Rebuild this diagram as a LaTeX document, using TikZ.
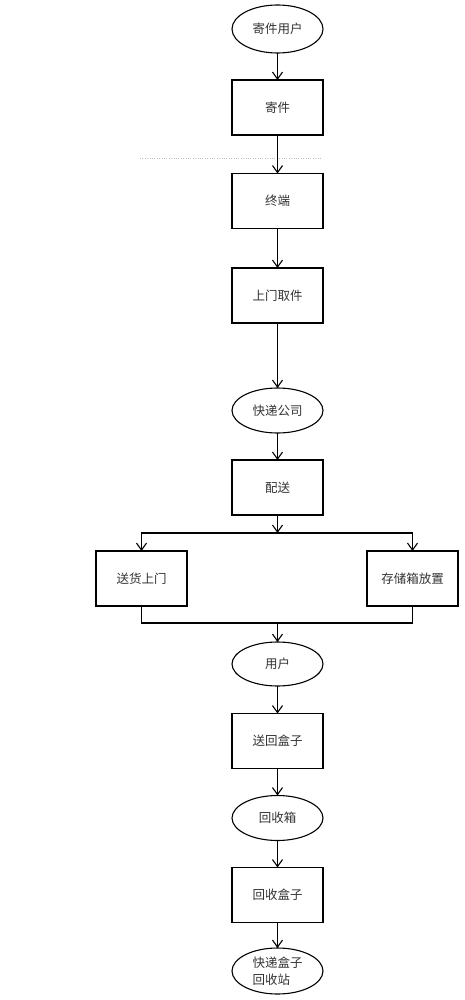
\documentclass[tikz,border=0pt]{standalone}
\usepackage{fontspec}
\newfontfamily\cjk{Noto Sans CJK SC}
\usetikzlibrary{arrows.meta,shapes.geometric}

\begin{document}
\begin{tikzpicture}[
x=1pt, y=-1pt,
font=\cjk\fontsize{12.5}{17}\selectfont,
 text=black!80,
    R/.style = {rectangle, draw, line width=1.1pt,% boxes of the steps
                minimum width=91pt, minimum height=55pt,
                outer sep=0pt},
    E/.style = {ellipse, draw, line width=1.1pt,% users and stations
                minimum width=91pt, minimum height=#1,
                inner sep=0pt, outer sep=0pt},
    E/.default=45pt, % by default ellipses are 45pt high
    A/.style = {-{Straight Barb[length=7pt,width=10pt]}, line width=1.1pt},
                    ]
\useasboundingbox (0,0) rectangle (465,1000);
\draw[dotted, gray!50, thin] (140,158) -- (322,158);
% sender side
\node[E=48pt] (u1) at (277.5,29)    {寄件用户};
\node[R]      (s1) at (277.5,107.5) {寄件};
\node[R]      (s2) at (277.5,201)   {终端};
\node[R]      (s3) at (277.5,295.5) {上门取件};
% company side
\node[E]      (u2) at (277.5,410.5) {快递公司};
\node[R]      (s4) at (277.5,487.5) {配送};
\node[R]      (s5) at (141.5,578.5) {送货上门};
\node[R]      (s6) at (412.5,578.5) {存储箱放置};
\coordinate   (split) at (277.5,533);
\coordinate   (join)  at (277.5,623);
% receiver side
\node[E=44pt] (u3) at (277.5,664)   {用户};
\node[R]      (s7) at (277.5,741)   {送回盒子};
\node[E]      (u4) at (277.5,818)   {回收箱};
\node[R]      (s8) at (277.5,895)   {回收盒子};
\node[E=46pt, align=left] (u5) at (277.5,971) {快递盒子\\回收站};
\foreach \a/\b in {u1/s1,s1/s2,s2/s3,s3/u2,u2/s4,u3/s7,s7/u4,u4/s8,s8/u5}
    \draw[A] (\a) -- (\b);
\draw[A] (s4) -- (split);
\draw[A] (split) -| (s5);
\draw[A] (split) -| (s6);
\draw[line width=1.1pt] (s5.south) |- (join) -| (s6.south);
\draw[A] (join) -- (u3);
    \end{tikzpicture}
\end{document}
